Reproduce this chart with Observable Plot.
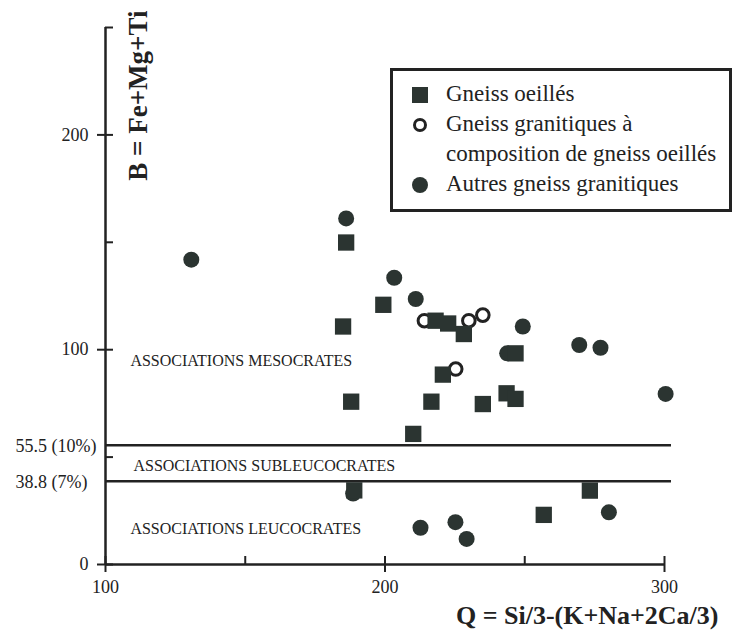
<!DOCTYPE html>
<html>
<head>
<meta charset="utf-8">
<script src="https://cdn.jsdelivr.net/npm/d3@7"></script>
<script src="https://cdn.jsdelivr.net/npm/@observablehq/plot@0.6"></script>
<style>
  body { margin: 0; background: #fff; }
  #wrap { position: relative; width: 738px; height: 630px; font-family: "Liberation Serif", "Tinos", "Times New Roman", "DejaVu Serif", serif; color: #222; }
  #wrap svg text { font-family: "Liberation Serif", "Tinos", "Times New Roman", "DejaVu Serif", serif; }
  #legend { position: absolute; left: 390px; top: 68px; width: 336px; height: 138px; border: 3px solid #222; font-size: 23px; line-height: 30px; }
  #legend .row { position: absolute; left: 0; white-space: nowrap; }
  #legend svg { position: absolute; left: 18px; top: 7px; }
  #legend span { position: absolute; left: 53px; }
</style>
</head>
<body>
<div id="wrap"></div>
<script>
// ---- data ----
const gneissOeillesQ = [186.1, 199.4, 185.0, 218.1, 222.6, 228.2, 246.7, 220.7, 187.9, 216.6, 235.0, 243.5, 246.7, 210.1, 189.0, 273.3, 256.8];
const gneissOeillesB = [149.9, 120.9, 110.8, 113.5, 112.2, 107.3, 98.3, 88.4, 75.8, 75.8, 74.7, 79.7, 77.1, 60.8, 34.5, 34.4, 23.1];
const granitiquesCompoQ = [214.1, 230.0, 235.0, 225.3];
const granitiquesCompoB = [113.5, 113.5, 116.1, 91.0];
const autresQ = [186.1, 130.7, 203.3, 211.0, 249.3, 243.7, 269.5, 277.1, 300.4, 188.6, 212.7, 225.2, 229.2, 280.1];
const autresB = [161.1, 141.9, 133.5, 123.6, 110.8, 98.3, 102.2, 100.9, 79.4, 33.0, 17.1, 19.7, 11.9, 24.3];

const seriesNames = ["Gneiss oeillés", "Gneiss granitiques à|composition de gneiss oeillés", "Autres gneiss granitiques"];

const thresholdValues = [55.5, 38.8];
const thresholdLabels = ["55.5 (10%)", "38.8 (7%)"];
const thresholdEnd = 302.5;

const regionLabels = ["ASSOCIATIONS MESOCRATES", "ASSOCIATIONS SUBLEUCOCRATES", "ASSOCIATIONS LEUCOCRATES"];
const regionQ = [108.9, 110.0, 108.9];
const regionB = [95, 46, 16.7];

const xDomain = [100, 300];
const yDomain = [0, 250];
const xTicks = [100, 150, 200, 250, 300];
const xTickLabels = [100, 200, 300];
const yTicks = [0, 50, 100, 150, 200, 250];
const yTickLabels = [0, 100, 200];

const xTitle = "Q = Si/3-(K+Na+2Ca/3)";
const yTitle = "B = Fe+Mg+Ti";

// ---- tables ----
const toRows = (qs, bs) => qs.map((q, i) => ({q, b: bs[i]}));
const sq = toRows(gneissOeillesQ, gneissOeillesB);
const open = toRows(granitiquesCompoQ, granitiquesCompoB);
const autres = toRows(autresQ, autresB);
const thresholds = thresholdValues.map((v, i) => ({v, label: thresholdLabels[i]}));
const regions = regionLabels.map((t, i) => ({t, q: regionQ[i], b: regionB[i]}));

const ink = "#222";
const fillC = "#2b3431";
const serif = "'Liberation Serif', Tinos, 'Times New Roman', 'DejaVu Serif', serif";

const chart = Plot.plot({
  width: 738, height: 630,
  marginLeft: 105, marginRight: 74, marginTop: 27, marginBottom: 66,
  x: {domain: xDomain},
  y: {domain: yDomain},
  style: {fontFamily: serif, color: ink, background: "#fff"},
  marks: [
    Plot.ruleX([xDomain[0]], {y1: yDomain[0], y2: yDomain[1], stroke: ink, strokeWidth: 2.5}),
    Plot.ruleY([yDomain[0]], {x1: xDomain[0], x2: xDomain[1], stroke: ink, strokeWidth: 2.5}),
    Plot.axisX({ticks: xTicks, tickSize: -8, tickFormat: () => "", stroke: ink, strokeWidth: 2, label: null}),
    Plot.axisX({ticks: xTickLabels, tickSize: 8, tickPadding: 8, fontSize: 18, stroke: ink, strokeWidth: 2, fill: ink, label: null, tickFormat: d => String(d)}),
    Plot.axisY({ticks: yTicks, tickSize: -8, tickFormat: () => "", stroke: ink, strokeWidth: 2, label: null}),
    Plot.axisY({ticks: yTickLabels, tickSize: 8, tickPadding: 9, fontSize: 18, stroke: ink, strokeWidth: 2, fill: ink, label: null, tickFormat: d => String(d)}),
    Plot.ruleY(thresholds, {y: "v", x1: xDomain[0], x2: thresholdEnd, stroke: ink, strokeWidth: 2.5}),
    Plot.text(thresholds, {y: "v", x: xDomain[0], text: "label", textAnchor: "start", dx: -90, dy: 1, fontSize: 18, fill: ink}),
    Plot.text(regions, {x: "q", y: "b", text: "t", textAnchor: "start", fontSize: 16, fill: ink}),
    Plot.dot(open, {x: "q", y: "b", r: 6.3, stroke: ink, strokeWidth: 3, fill: "white"}),
    Plot.dot(autres, {x: "q", y: "b", r: 8, fill: fillC, stroke: null}),
    Plot.dot(sq, {x: "q", y: "b", r: 9.2, symbol: "square", fill: fillC, stroke: null}),
    Plot.text([yTitle], {frameAnchor: "top-left", rotate: -90, textAnchor: "end", dx: 22, dy: -17, fontSize: 27, fontWeight: "bold", fill: ink}),
    Plot.text([xTitle], {frameAnchor: "bottom-right", textAnchor: "end", dx: 54, dy: 59, fontSize: 26, fontWeight: "bold", fill: ink})
  ]
});

const wrap = document.getElementById("wrap");
wrap.appendChild(chart);

const legendBox = document.createElement("div");
legendBox.id = "legend";
const sym = [
  `<svg width="18" height="18"><rect x="1" y="1" width="16" height="16" fill="${fillC}"/></svg>`,
  `<svg width="18" height="18"><circle cx="9" cy="9" r="5.5" fill="white" stroke="${ink}" stroke-width="3"/></svg>`,
  `<svg width="18" height="18"><circle cx="9" cy="9" r="8" fill="${fillC}"/></svg>`
];
let rowTop = 8;
seriesNames.forEach((name, i) => {
  const lines = name.split("|");
  lines.forEach((ln, j) => {
    const row = document.createElement("div");
    row.className = "row";
    row.style.top = (rowTop + j * 30) + "px";
    row.style.width = "100%";
    row.style.height = "30px";
    row.innerHTML = (j === 0 ? sym[i] : "") + `<span>${ln}</span>`;
    legendBox.appendChild(row);
  });
  rowTop += lines.length * 30;
});
wrap.appendChild(legendBox);
</script>
</body>
</html>
